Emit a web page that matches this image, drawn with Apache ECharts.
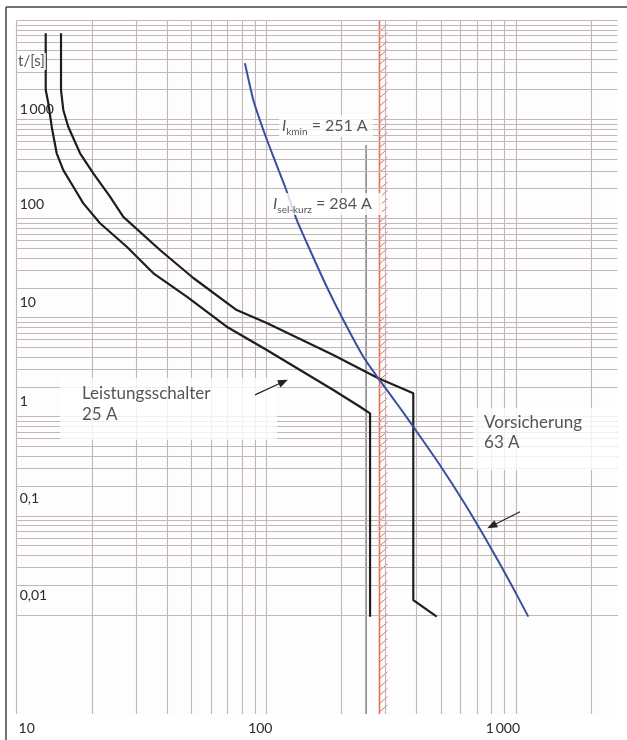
<!DOCTYPE html>
<html><head><meta charset="utf-8">
<script src="https://cdn.jsdelivr.net/npm/echarts@6/dist/echarts.min.js"></script>
<style>html,body{margin:0;padding:0;background:#fff}#c{width:627px;height:740px}</style>
</head><body><div id="c"></div>
<script>
// ---------- data ----------
const xMin = 10, xMax = 2550, yMin = 0.001, yMax = 10000;
const xTickValues = [10, 100, 1000];
const xTickLabels = ['10', '100', '1\u2009000'];
const yTickValues = [0.01, 0.1, 1, 10, 100, 1000];
const yTickLabels = ['0,01', '0,1', '1', '10', '100', '1\u2009000'];
const xGridValues = [10,20,30,40,50,60,70,80,90,100,200,300,400,500,600,700,800,900,1000,2000];
const yGridValues = [
  0.001,0.002,0.003,0.004,0.005,0.006,0.007,0.008,0.009,
  0.01,0.02,0.03,0.04,0.05,0.06,0.07,0.08,0.09,
  0.1,0.2,0.3,0.4,0.5,0.6,0.7,0.8,0.9,
  1,2,3,4,5,6,7,8,9,
  10,20,30,40,50,60,70,80,90,
  100,200,300,400,500,600,700,800,900,
  1000,2000,3000,4000,5000,6000,7000,8000,9000,10000];
// Leistungsschalter 25 A – lower band
const breakerLower = [[13.07,7400],[13.07,1980],[13.39,1453],[13.81,844],[14.46,455],[15.37,308],[16.86,209],[18.49,142],[21.57,89.5],[27.6,51.9],[35.3,28.0],[48.0,16.3],[69.4,8.09],[100.4,4.71],[136.5,2.96],[185.5,1.86],[237.4,1.26],[260.4,1.08],[260.4,0.0096]];
// Leistungsschalter 25 A – upper band
const breakerUpper = [[15.05,7400],[15.05,1980],[15.37,1245],[16.09,844],[17.94,455],[20.27,286],[23.65,166],[26.74,104],[37.5,48.1],[51.0,25.1],[76.1,11.9],[100.4,8.82],[136.5,6.08],[185.5,4.195],[281,2.44],[388,1.72],[388,0.0141],[481.6,0.0096]];
// Vorsicherung 63 A
const fuse63 = [[82.1,3681],[88.7,1570],[97.3,782],[106.7,421],[118.9,209],[132.4,96.6],[149.6,48.1],[174.6,20.5],[203.5,9.46],[244.7,4.03],[281,2.44],[343.4,1.224],[388,0.793],[496.6,0.324],[625.5,0.1306],[787.5,0.0491],[947,0.0214],[1121,0.0096]];
const iKmin = 251, iKminTop = 552;
const iSelKurz = 284;
const arrowBreaker = [[90.1,1.66],[117,2.25]];
const arrowFuse = [[1039,0.110],[800,0.0789]];

// ---------- layout (annotation anchors, box top-left in data space; label lifts in px) ----------
const anchorBreaker = [14.91, 2.458];
const anchorFuse = [673.2, 1.224];
const anchorKmin = [112.4, 1108];
const anchorSel = [103.5, 180.8];
const anchorUnit = [10.03, 4678];
const yLabelLift = [11, 9, 7.5, 7, 6, 2];

const FONT = 'Lato';
const TXT = '#2a2a2a';
const GRID = '#c2b6b6';
const RED = '#e5705c';

function idxOf(v, vals) {
  return vals.findIndex(t => Math.abs(Math.log10(v) - Math.log10(t)) < 0.01);
}

const chart = echarts.init(document.getElementById('c'), null, {renderer: 'canvas'});

const lblBase = {show: true, position: 'inside', align: 'left', verticalAlign: 'top',
  backgroundColor: '#fff', fontFamily: FONT, color: TXT};
const subRich = () => ({
  i: {fontStyle: 'italic', fontSize: 16, lineHeight: 22, fontFamily: FONT, color: TXT},
  s: {fontSize: 10, lineHeight: 9, verticalAlign: 'bottom', fontFamily: FONT, color: TXT},
  n: {fontSize: 16, lineHeight: 22, fontFamily: FONT, color: TXT}
});
const yRich = {t: {fontSize: 14, lineHeight: 16, fontFamily: FONT, color: TXT}};
yLabelLift.forEach((h, i) => { yRich['g' + i] = {fontSize: 1, lineHeight: h}; });

const option = {
  animation: false,
  backgroundColor: '#fff',
  grid: {left: 16.7, right: 9.6, top: 20.3, bottom: 26, show: true, backgroundColor: '#fdfdfd', borderWidth: 0},
  xAxis: {
    type: 'log', logBase: 10, min: xMin, max: xMax,
    axisLine: {show: false}, axisTick: {show: false}, splitLine: {show: false},
    axisLabel: {
      margin: 7, fontSize: 14, fontFamily: FONT, color: TXT, showMaxLabel: true,
      formatter: v => { const i = idxOf(v, xTickValues); return i < 0 ? '' : '{l' + i + '|' + xTickLabels[i] + '}'; },
      rich: {l0: {padding: [0, 0, 0, 20]}, l1: {padding: [0, 12, 0, 0]}, l2: {padding: [0, 26, 0, 0]}}
    }
  },
  yAxis: {
    type: 'log', logBase: 10, min: yMin, max: yMax,
    axisLine: {show: false}, axisTick: {show: false}, splitLine: {show: false},
    axisLabel: {
      inside: true, margin: 3, fontSize: 14, fontFamily: FONT, color: TXT,
      verticalAlign: 'bottom',
      formatter: v => { const i = idxOf(v, yTickValues); return i < 0 ? '' : '{t|' + yTickLabels[i] + '}\n{g' + i + '| }'; },
      rich: yRich
    }
  },
  graphic: [
    {type: 'line', shape: {x1: 6, y1: 7, x2: 627, y2: 7}, style: {stroke: '#444', lineWidth: 1.5}, z: 100},
    {type: 'line', shape: {x1: 6, y1: 7, x2: 6, y2: 740}, style: {stroke: '#444', lineWidth: 1.5}, z: 100}
  ],
  series: [
    {
      name: 'grid', type: 'line', data: [[xMin, yMin]], showSymbol: false, symbol: 'none',
      lineStyle: {width: 0}, z: 1, silent: true,
      markLine: {
        silent: true, symbol: ['none', 'none'], label: {show: false},
        lineStyle: {color: GRID, width: 1.1, type: 'solid', opacity: 1},
        data: xGridValues.map(v => ({xAxis: v})).concat(yGridValues.map(v => ({yAxis: v})))
      }
    },
    {
      name: 'Isel', type: 'custom', coordinateSystem: 'cartesian2d', data: [[iSelKurz, yMin]], z: 4, silent: true, clip: false,
      renderItem: (params, api) => {
        const b = api.coord([api.value(0), yMin]);
        const t = api.coord([api.value(0), yMax]);
        const x = b[0];
        const ch = [{type: 'line', shape: {x1: x, y1: t[1], x2: x, y2: b[1]}, style: {stroke: RED, lineWidth: 1.6}}];
        for (let y = b[1] - 2; y > t[1] + 6; y -= 8.3) {
          ch.push({type: 'line', shape: {x1: x, y1: y, x2: x + 8, y2: y - 7}, style: {stroke: RED, lineWidth: 1}});
        }
        return {type: 'group', children: ch};
      }
    },
    {
      name: 'Ikmin', type: 'line', data: [[iKmin, iKminTop], [iKmin, yMin]], showSymbol: false, symbol: 'none',
      lineStyle: {color: '#444', width: 1}, z: 3, silent: true
    },
    {
      name: 'LS unten', type: 'line', data: breakerLower, showSymbol: false, symbol: 'none',
      lineStyle: {color: '#1e1e1e', width: 2.2}, z: 5, silent: true
    },
    {
      name: 'LS oben', type: 'line', data: breakerUpper, showSymbol: false, symbol: 'none',
      lineStyle: {color: '#1e1e1e', width: 2.2}, z: 5, silent: true
    },
    {
      name: 'Vorsicherung', type: 'line', data: fuse63, showSymbol: false, symbol: 'none', smooth: 0.2,
      lineStyle: {color: '#3b4f9f', width: 2}, z: 6, silent: true
    },
    {
      name: 'labels', type: 'scatter', symbolSize: 1, itemStyle: {color: 'rgba(0,0,0,0)'}, z: 10, silent: true,
      data: [
        {value: anchorBreaker, label: Object.assign({}, lblBase, {
          formatter: 'Leistungsschalter\n25\u202fA', fontSize: 17, lineHeight: 21,
          width: 195, padding: [5.5, 0, 14.5, 22]})},
        {value: anchorFuse, label: Object.assign({}, lblBase, {
          formatter: 'Vorsicherung\n63\u202fA', fontSize: 17, lineHeight: 20,
          width: 133, padding: [5, 0, 17, 11]})},
        {value: anchorKmin, label: Object.assign({}, lblBase, {
          formatter: '{i|I}{s|kmin}{n| = 251\u202fA}', width: 91, padding: [0, 0, 0, 3],
          rich: subRich()})},
        {value: anchorSel, label: Object.assign({}, lblBase, {
          formatter: '{i|I}{s|sel-kurz}{n| = 284\u202fA}', width: 109, padding: [0, 0, 0, 3],
          rich: subRich()})},
        {value: anchorUnit, label: Object.assign({}, lblBase, {
          formatter: 't/[s]', fontSize: 15, lineHeight: 17, padding: [0, 1, 0, 1]})}
      ],
      markLine: {
        silent: true, symbol: ['none', 'triangle'], symbolSize: [8, 10], label: {show: false},
        lineStyle: {color: '#222', width: 1.2, type: 'solid'}, z: 12,
        data: [
          [{coord: arrowBreaker[0]}, {coord: arrowBreaker[1]}],
          [{coord: arrowFuse[0]}, {coord: arrowFuse[1]}]
        ]
      }
    }
  ]
};
chart.setOption(option);
</script>
</body></html>
